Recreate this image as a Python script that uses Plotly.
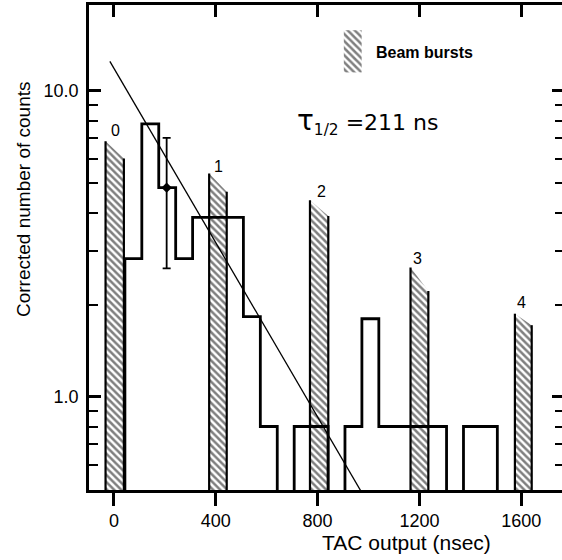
import math
import plotly.graph_objects as go

# ---- data ----
bin_edges = [43, 109.5, 176, 242.5, 309, 375.5, 442, 508.5, 575, 641.5, 708,
             774.5, 841, 907.5, 974, 1040.5, 1107, 1173.5, 1240, 1306.5, 1373,
             1439.5, 1506]
counts = [2.83, 7.8, 4.83, 2.83, 3.86, 3.86, 3.86, 1.83, 0.8, 0, 0.8,
          0.8, 0, 0.8, 1.8, 0.8, 0.8, 0.8, 0.8, 0, 0.8, 0.8]

burst_labels = ["0", "1", "2", "3", "4"]
burst_left = [-33, 374, 770, 1165, 1575]
burst_right = [39, 443, 842, 1235, 1641]
burst_top_left = [6.85, 5.37, 4.39, 2.65, 1.87]
burst_top_right = [6.01, 4.68, 3.90, 2.22, 1.715]
burst_label_x = [8, 411, 816, 1194, 1602]
burst_label_y = [7.4, 5.65, 4.68, 2.84, 2.04]

fit_x = [-16, 975]
fit_y = [12.5, 0.484]

err_x = [207]
err_y = [4.83]
err_e = [2.2]

x_ticks = [0, 400, 800, 1200, 1600]
y_ticks = [1, 10]
y_ticktext = ["1.0", "10.0"]
y_minor = [0.6, 0.7, 0.8, 0.9, 2, 3, 4, 5, 6, 7, 8, 9]

X_RANGE = [-98, 1760]
Y_RANGE = [math.log10(0.496), math.log10(19.1)]
FLOOR = 0.3  # zero counts drawn below the visible range

legend_box_x = [903, 973]
legend_box_y = [11.5, 15.8]

FONT = "Liberation Sans"

fig = go.Figure()

hatch = dict(shape="\\", fgcolor="black", bgcolor="white", size=5, solidity=0.5)

# beam bursts
for xl, xr, tl, tr in zip(burst_left, burst_right, burst_top_left, burst_top_right):
    fig.add_trace(go.Scatter(
        x=[xl, xl, xr, xr, xl], y=[FLOOR, tl, tr, FLOOR, FLOOR],
        mode="lines", fill="toself", fillpattern=hatch,
        fillcolor="white", line=dict(width=0, color="rgba(0,0,0,0)"),
        hoverinfo="skip", showlegend=False))
    fig.add_trace(go.Scatter(
        x=[xl, xl, None, xr, xr], y=[FLOOR, tl, None, tr, FLOOR],
        mode="lines", line=dict(color="black", width=2.2),
        hoverinfo="skip", showlegend=False))

# histogram
hx = [bin_edges[0]] + bin_edges
hy = [FLOOR] + [c if c > 0 else FLOOR for c in counts] + [FLOOR]
fig.add_trace(go.Scatter(x=hx, y=hy, mode="lines", line_shape="hv",
                         line=dict(color="black", width=2.8),
                         showlegend=False))

# fit line
fig.add_trace(go.Scatter(x=fit_x, y=fit_y, mode="lines",
                         line=dict(color="black", width=1.3), showlegend=False))

# error bar point
fig.add_trace(go.Scatter(x=err_x, y=err_y, mode="markers",
                         marker=dict(symbol="diamond", size=8, color="black"),
                         error_y=dict(type="data", array=err_e, color="black",
                                      thickness=1.8, width=4),
                         showlegend=False))

# legend hatch box
fig.add_trace(go.Scatter(
    x=[legend_box_x[0], legend_box_x[0], legend_box_x[1], legend_box_x[1], legend_box_x[0]],
    y=[legend_box_y[0], legend_box_y[1], legend_box_y[1], legend_box_y[0], legend_box_y[0]],
    mode="lines", fill="toself", fillpattern=hatch, fillcolor="white",
    line=dict(width=0, color="rgba(0,0,0,0)"), hoverinfo="skip", showlegend=False))

# dummy trace for secondary axes
fig.add_trace(go.Scatter(x=[None], y=[None], xaxis="x2", yaxis="y2",
                         mode="lines", showlegend=False))

annotations = []
for t, ax_, ay_ in zip(burst_labels, burst_label_x, burst_label_y):
    annotations.append(dict(x=ax_, y=math.log10(ay_), text=t, showarrow=False,
                            xanchor="center", yanchor="middle",
                            font=dict(family=FONT, size=16, color="black")))
annotations.append(dict(x=1021, y=math.log10(13.4), text="<b>Beam bursts</b>",
                        showarrow=False, xanchor="left", yanchor="middle",
                        font=dict(family=FONT, size=16, color="black")))
annotations.append(dict(x=711, y=math.log10(7.96),
                        text='<span style="font-size:28px">τ</span><sub>1/2</sub> =211 ns',
                        showarrow=False, xanchor="left", yanchor="middle",
                        font=dict(family="DejaVu Sans", size=22, color="black")))
annotations.append(dict(xref="paper", yref="paper", x=-0.1395, y=0.6,
                        xanchor="center", yanchor="middle",
                        text="Corrected number of counts", textangle=-90,
                        showarrow=False,
                        font=dict(family=FONT, size=19, color="black")))
annotations.append(dict(xref="paper", yref="paper", x=0.672, y=-0.109,
                        xanchor="center", yanchor="middle",
                        text="TAC output (nsec)", showarrow=False,
                        font=dict(family=FONT, size=21, color="black")))

fig.update_layout(
    width=562, height=560,
    margin=dict(l=89, r=0, t=5, b=70),
    paper_bgcolor="white", plot_bgcolor="white",
    font=dict(family=FONT, color="black"),
    annotations=annotations,
    xaxis=dict(range=X_RANGE, showgrid=False, zeroline=False,
               tickvals=x_ticks, ticks="outside", ticklen=13, tickwidth=2.5,
               tickcolor="black", showline=True, linewidth=2.5, linecolor="black",
               tickfont=dict(family=FONT, size=18, color="black")),
    xaxis2=dict(range=X_RANGE, overlaying="x", side="top", anchor="y",
                showgrid=False, zeroline=False, tickvals=x_ticks,
                ticks="inside", ticklen=12, tickwidth=2.5, tickcolor="black",
                showticklabels=False, showline=True, linewidth=2.5,
                linecolor="black"),
    yaxis=dict(type="log", range=Y_RANGE, showgrid=False, zeroline=False,
               tickvals=y_ticks, ticktext=y_ticktext, ticks="inside",
               ticklen=12, tickwidth=2.5, tickcolor="black",
               showline=True, linewidth=2.5, linecolor="black",
               ticklabelstandoff=4,
               tickfont=dict(family=FONT, size=18, color="black"),
               minor=dict(tickvals=y_minor, ticks="inside", ticklen=9,
                          tickwidth=2.2, tickcolor="black", showgrid=False)),
    yaxis2=dict(type="log", range=Y_RANGE, overlaying="y", side="right",
                anchor="x", showgrid=False, zeroline=False,
                tickvals=y_ticks, ticks="inside", ticklen=10, tickwidth=2.5,
                tickcolor="black", showticklabels=False, showline=False,
                minor=dict(tickvals=y_minor, ticks="inside", ticklen=7,
                           tickwidth=2.2, tickcolor="black", showgrid=False)),
)

fig.write_html("out.html", config={"displayModeBar": False},
               post_script="document.body.style.margin='0px';document.body.style.overflow='hidden';")
